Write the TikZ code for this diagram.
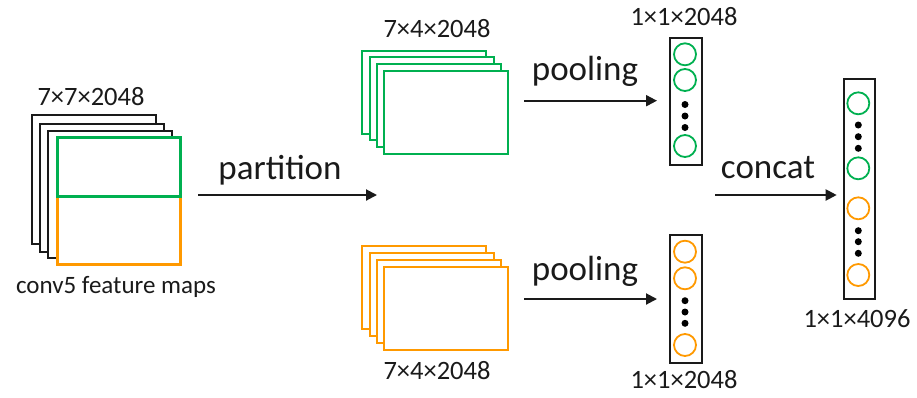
\documentclass[tikz,border=0pt]{standalone}
\usepackage{fontspec}
\setmainfont{Carlito}
\usetikzlibrary{arrows.meta}
\definecolor{mapgreen}{RGB}{0,176,80}
\definecolor{maporange}{RGB}{255,153,0}
\definecolor{ink}{RGB}{26,26,26}
\begin{document}
\begin{tikzpicture}[x=1pt,y=-1pt,
  sheet/.style={draw=#1,fill=white,line width=2pt,inner sep=0pt,anchor=north west},
  vecbox/.style={draw=ink,line width=2pt,inner sep=0pt,anchor=north west,minimum width=32pt},
  unit/.style={draw=#1,line width=1.8pt,circle,inner sep=0pt,minimum size=22pt},
  dot/.style={fill=black,circle,inner sep=0pt,minimum size=7pt},
  arr/.style={draw=ink,line width=2pt,-{Triangle[length=11pt,width=11pt]}},
  big/.style={font=\fontsize{35}{40}\selectfont,text=ink,anchor=base,inner sep=0pt},
  small/.style={font=\fontsize{26.5}{30}\selectfont,text=ink,anchor=base,inner sep=0pt}]
\useasboundingbox (0,0) rectangle (917,397);

% conv5 feature maps: stacked sheets, front one split into two halves
\node[sheet=ink,minimum width=124pt,minimum height=129pt] (convA) at (31,114) {};
\node[sheet=ink,minimum width=124pt,minimum height=128pt] (convB) at (39,122.5) {};
\node[sheet=ink,minimum width=124pt,minimum height=127pt] (convC) at (47,130) {};
\node[sheet=maporange,line width=3pt,minimum width=122.5pt,minimum height=68pt] (convLow) at (56,195) {};
\node[sheet=mapgreen,line width=3pt,minimum width=122.5pt,minimum height=59pt] (convUp) at (56,136) {};
\node[small] (convDim) at (91,105.5) {7×7×2048};
\node[font=\fontsize{25}{30}\selectfont,text=ink,anchor=base,inner sep=0pt] (convName) at (116,293) {conv5 feature maps};

% partition arrow
\coordinate (partStart) at (198,195);
\coordinate (partEnd) at (377,195);
\draw[arr] (partStart) -- (partEnd);
\node[big] (partLbl) at (280,179) {partition};

% upper (green) part stack
\node[sheet=mapgreen,minimum width=124pt,minimum height=83pt] (gA) at (361,49.5) {};
\node[sheet=mapgreen,minimum width=124pt,minimum height=83pt] (gB) at (368.5,56.3) {};
\node[sheet=mapgreen,minimum width=124pt,minimum height=83pt] (gC) at (376,63) {};
\node[sheet=mapgreen,minimum width=123.5pt,minimum height=83pt] (gD) at (383.3,70) {};
\node[small] (gDim) at (437,37.3) {7×4×2048};

% lower (orange) part stack
\node[sheet=maporange,minimum width=124pt,minimum height=83pt] (oA) at (361,245) {};
\node[sheet=maporange,minimum width=124pt,minimum height=83pt] (oB) at (368.5,251.8) {};
\node[sheet=maporange,minimum width=124pt,minimum height=83pt] (oC) at (376,258.5) {};
\node[sheet=maporange,minimum width=123.5pt,minimum height=83pt] (oD) at (383.3,265.5) {};
\node[small] (oDim) at (437,379.3) {7×4×2048};

% pooled vectors
\node[vecbox,minimum height=127pt] (vTop) at (669,37.3) {};
\node[unit=mapgreen] (t1) at (685,54.3) {};
\node[unit=mapgreen] (t2) at (685,80) {};
\node[dot] (td1) at (685,104.5) {};
\node[dot] (td2) at (685,116) {};
\node[dot] (td3) at (685,127.5) {};
\node[unit=mapgreen] (t3) at (685,146) {};
\node[small] (vTopDim) at (684,25) {1×1×2048};

\node[vecbox,minimum height=128pt] (vBot) at (669,233.5) {};
\node[unit=maporange] (b1) at (685,251.7) {};
\node[unit=maporange] (b2) at (685,278.3) {};
\node[dot] (bd1) at (685,300.7) {};
\node[dot] (bd2) at (685,312) {};
\node[dot] (bd3) at (685,323.3) {};
\node[unit=maporange] (b3) at (685,345) {};
\node[small] (vBotDim) at (684,388.3) {1×1×2048};

% pooling arrows
\coordinate (poolTopStart) at (524,100.7);
\coordinate (poolBotStart) at (524,299);
\draw[arr] (poolTopStart) -- ([xshift=-12pt]vTop.west |- poolTopStart);
\draw[arr] (poolBotStart) -- ([xshift=-12pt]vBot.west |- poolBotStart);
\node[big] (poolTopLbl) at (585,80.7) {pooling};
\node[big] (poolBotLbl) at (585,280.7) {pooling};

% concatenated vector
\node[vecbox,minimum width=31.5pt,minimum height=220pt] (vCat) at (842.7,78.3) {};
\node[unit=mapgreen] (c1) at (858.3,103.3) {};
\node[dot] (cd1) at (858.3,125) {};
\node[dot] (cd2) at (858.3,136.7) {};
\node[dot] (cd3) at (858.3,148.3) {};
\node[unit=mapgreen] (c2) at (858.3,168.3) {};
\node[unit=maporange] (c3) at (858.3,208.3) {};
\node[dot] (cd4) at (858.3,230.7) {};
\node[dot] (cd5) at (858.3,241.7) {};
\node[dot] (cd6) at (858.3,253.3) {};
\node[unit=maporange] (c4) at (858.3,275) {};
\node[small] (vCatDim) at (857,327.7) {1×1×4096};

% concat arrow
\coordinate (catStart) at (715,195);
\draw[arr] (catStart) -- ([xshift=-6pt]vCat.west |- catStart);
\node[big] (catLbl) at (768,178.3) {concat};
\end{tikzpicture}
\end{document}
